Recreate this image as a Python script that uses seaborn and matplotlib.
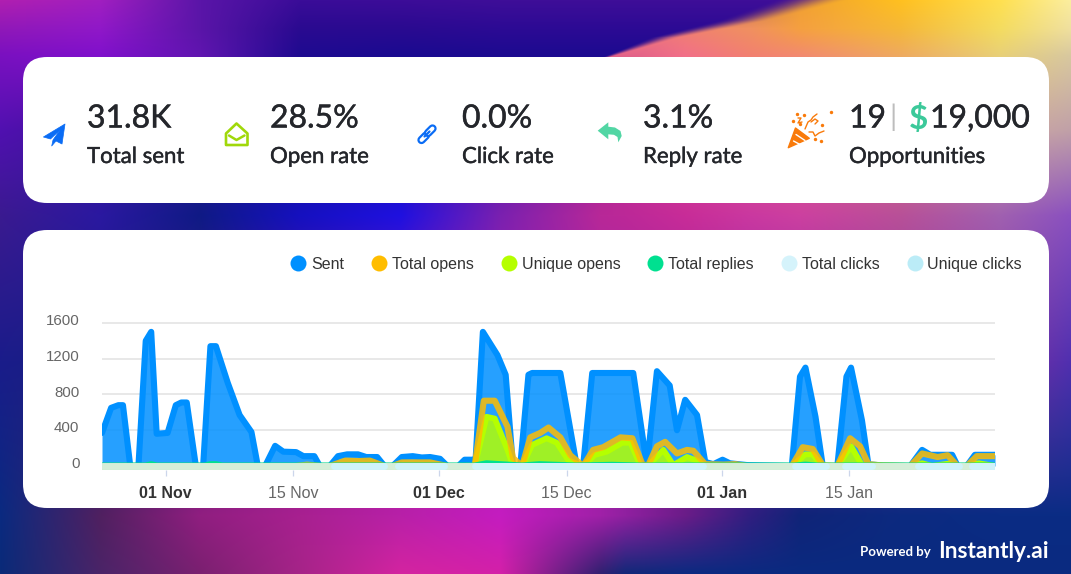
import matplotlib
matplotlib.use("Agg")
import matplotlib.pyplot as plt
import matplotlib.patheffects as pe
import seaborn as sns
import numpy as np
import pandas as pd
from matplotlib.lines import Line2D
from matplotlib.patches import FancyBboxPatch, Polygon

START = pd.Timestamp("2023-10-25")

# days since START, value pairs
sent_days = [0, 1.0, 1.8, 2.3, 3.1, 4.0, 4.8, 5.4, 6.0, 7.2, 8.1, 8.7, 9.3, 10.3, 11.1, 11.9, 12.5, 13.8, 15.1, 16.4,
             17.1, 17.9, 19.0, 19.9, 21.3, 22.1, 23.3, 23.9, 25.0, 25.9, 26.9, 28.1, 29.0, 30.2, 31.0, 31.9, 32.9,
             34.1, 35.1, 36.0, 37.1, 37.9, 39.1, 39.8, 40.7, 41.0, 41.8, 43.4, 44.3, 45.1, 45.9, 46.8, 47.2, 50.3,
             52.1, 52.8, 53.8, 54.3, 58.3, 59.8, 60.9, 62.3, 63.1, 64.0, 65.3, 66.2, 67.1, 68.1, 68.9, 70.8, 75.7,
             76.6, 77.2, 78.3, 79.1, 80.7, 81.7, 82.2, 83.4, 84.1, 85.7, 88.7, 90.0, 90.9, 93.3, 93.9, 94.9, 95.8, 98]
sent = [370, 650, 680, 680, 0, 0, 1400, 1500, 360, 370, 680, 710, 710, 0, 0, 1340, 1340, 930, 570, 380,
        0, 0, 225, 160, 155, 110, 110, 0, 0, 110, 130, 130, 100, 100, 0, 0, 100,
        110, 95, 100, 80, 0, 0, 70, 70, 70, 1500, 1240, 1020, 0, 0, 1020, 1040, 1040,
        0, 0, 1040, 1040, 1040, 0, 1060, 900, 400, 740, 570, 45, 20, 70, 30, 10, 0,
        1000, 1100, 550, 0, 0, 1000, 1100, 510, 20, 5, 0, 180, 125, 125, 0, 0, 125, 125]

opens_days = [0, 21.3, 22.5, 24.0, 25.0, 26.7, 28.1, 29.4, 31.0, 31.9, 32.9, 36.0, 37.9, 40.9, 41.9, 43.1, 44.5, 45.1,
              46.1, 47.0, 48.1, 49.0, 50.3, 51.4, 52.8, 53.9, 55.0, 56.9, 58.2, 59.3, 59.9, 60.9, 61.8, 63.1, 64.2,
              64.9, 66.2, 68.2, 69.5, 70.8, 75.7, 76.9, 78.0, 79.1, 80.7, 82.1, 83.2, 84.1, 85.7, 88.7, 90.0, 91.7,
              92.8, 93.9, 94.9, 96.0, 98]
total_opens = [0, 0, 15, 0, 0, 60, 55, 60, 0, 0, 40, 40, 0, 0, 730, 730, 440, 90,
               0, 320, 370, 430, 320, 120, 0, 180, 210, 320, 310, 20, 0, 220, 270, 140, 180,
               170, 20, 15, 20, 0, 0, 210, 190, 10, 0, 310, 220, 20, 5, 0, 140, 100,
               120, 0, 0, 110, 110]

unique_days = [0, 40.9, 42.2, 43.1, 44.5, 45.1, 46.1, 47.2, 48.8, 49.9, 51.2, 52.8, 54.1, 55.4, 57.1, 58.0, 59.1, 59.9,
               61.6, 62.7, 64.2, 65.3, 66.2, 75.7, 77.2, 78.0, 79.0, 80.7, 82.2, 83.4, 88.7, 90.0, 91.1, 92.8, 93.9,
               94.9, 96.2, 98]
unique_opens = [0, 0, 550, 530, 180, 0, 0, 235, 310, 260, 60, 0, 125, 160, 260, 260, 0, 0,
                180, 10, 100, 60, 0, 0, 130, 130, 0, 0, 220, 10, 0, 30, 0, 25, 0,
                0, 30, 0]

replies_days = [0, 4.8, 5.4, 6.0, 11.3, 11.9, 12.5, 13.2, 40.9, 42.2, 44.5, 46.1, 48.0, 52.0, 56.0, 59.0, 76.0, 77.2, 78.5, 98]
total_replies = [0, 0, 15, 0, 0, 15, 15, 0, 0, 25, 10, 0, 15, 0, 8, 0, 0, 10, 0, 0]

# stretches where the click series sit at zero on top of the baseline
click_from = [25.5, 32.5, 40.9, 76.0, 81.5, 89.5, 95.5]
click_to = [31.0, 37.5, 66.0, 79.5, 84.5, 94.0, 98.0]

legend_names = ["Sent", "Total opens", "Unique opens", "Total replies", "Total clicks", "Unique clicks"]
legend_colors = ["#0090ff", "#ffbd00", "#b5ff00", "#00e090", "#d5f3fb", "#bbecf7"]

y_ticks = [0, 400, 800, 1200, 1600]
x_ticks = ["2023-11-01", "2023-11-15", "2023-12-01", "2023-12-15", "2024-01-01", "2024-01-15"]
x_labels = ["01 Nov", "15 Nov", "01 Dec", "15 Dec", "01 Jan", "15 Jan"]

# background colour mesh, rows and columns in pixels
bg_x = [0, 100, 200, 300, 400, 500, 600, 625, 685, 750, 800, 900, 1000, 1071]
bg_y = [0, 28, 55, 130, 215, 360, 515, 574]
bg_rows = [
    ["#b01fb0", "#a01fc0", "#5a15a8", "#3a0c98", "#3c0c98", "#3e0e98", "#3e0e98", "#3e0e98", "#4a1490", "#c07840", "#f0a030", "#ffc020", "#ffe050", "#fbeea0"],
    ["#9018b8", "#9018c8", "#5a15a8", "#2a0a90", "#2a0a90", "#2c0a94", "#300c90", "#f07088", "#f08070", "#f09060", "#f5a040", "#f5b838", "#f4dc60", "#f0e0a0"],
    ["#7a10c0", "#8010cc", "#6015b0", "#1e0a90", "#1a0a90", "#1c0a90", "#300e88", "#e06088", "#f27088", "#f28070", "#f28a70", "#eeaa60", "#e8d078", "#d8c8a0"],
    ["#5010b0", "#401598", "#301590", "#201090", "#2010a0", "#5018a0", "#a02090", "#c03090", "#d84890", "#e05888", "#e06080", "#d88080", "#d0a8a0", "#c0a0a8"],
    ["#3a1a90", "#2a18a0", "#0f1a85", "#1510c0", "#1f10e0", "#7a20b0", "#b82898", "#bc2898", "#c82c98", "#ca38a0", "#cc40a0", "#b85098", "#a060b0", "#8a50c0"],
    ["#1a1c8a", "#1a2080", "#3a1c80", "#6a1c90", "#9020a0", "#a820b0", "#a020a8", "#9a20a4", "#902098", "#8820a0", "#8020a0", "#8030a0", "#8030a0", "#5030b0"],
    ["#0a2a80", "#502060", "#901e80", "#a82090", "#b820a8", "#c41cc0", "#a020a8", "#9020a0", "#6a1c88", "#301e80", "#102478", "#0c2a80", "#0a2c84", "#0a2c84"],
    ["#0a2a78", "#4a2468", "#7a2070", "#a62488", "#d424a0", "#d420a8", "#302070", "#102878", "#0a2a80", "#0a2a80", "#0a2a80", "#0a2a80", "#0a2a80", "#0a2a80"],
]
# the diagonal edge of the warm wedge at the top, y to x in pixels
wedge_y = [0, 20, 37, 57]
wedge_x = [772, 717, 649, 601]


def to_dates(days):
    return START + pd.to_timedelta(days, unit="D")


def make_background():
    rgb = np.array([[matplotlib.colors.to_rgb(c) for c in row] for row in bg_rows])
    xs = np.arange(1071)
    ys = np.arange(574)
    across = np.stack([[np.interp(xs, bg_x, rgb[r, :, k]) for k in range(3)] for r in range(len(bg_y))])
    img = np.stack([[np.interp(ys, bg_y, across[:, k, i]) for i in range(1071)] for k in range(3)], axis=-1).transpose(1, 0, 2)
    # mesh alone makes the wedge blocky, so redo the top strip right of x=500
    out = img.copy()
    for y in range(58):
        edge = np.interp(y, wedge_y, wedge_x)
        width = 8 + (57 - y) * 1.2
        t = np.clip((xs - edge) / width, 0, 1)
        mix = (t * t * (3 - 2 * t))[:, None]
        warm = img[y, np.maximum(xs, int(edge + 30))]
        cold = img[y, 500]
        out[y, 500:] = (cold * (1 - mix) + warm * mix)[500:]
    return out


sns.set_theme(style="white")
plt.rcParams["font.family"] = ["Liberation Sans", "DejaVu Sans"]

W, H = 1071, 574
fig = plt.figure(figsize=(W / 100, H / 100), dpi=100)

# page layer in pixel coordinates: background, cards, stat row, icons
page = fig.add_axes([0, 0, 1, 1])
page.set_xlim(0, W)
page.set_ylim(H, 0)
page.axis("off")
page.imshow(make_background(), extent=(0, W, H, 0), aspect="auto", zorder=0)
page.set_xlim(0, W)
page.set_ylim(H, 0)

for top, bottom in [(57, 203), (230, 508)]:
    page.add_patch(FancyBboxPatch((23 + 24, top + 24), 1026 - 48, bottom - top - 48,
                                  boxstyle="round,pad=24,rounding_size=24", fc="white", ec="none", zorder=1))

DARK = "#24262b"
HEAVY = [pe.withStroke(linewidth=0.3, foreground=DARK)]


def stat_text(x, y, s, size, color=DARK, **kw):
    t = page.text(x, y, s, fontsize=size, family="Lato", color=color, va="center", zorder=3, **kw)
    if color == DARK:
        t.set_path_effects(HEAVY)


stats = [(87, "31.8K", "Total sent"), (270, "28.5%", "Open rate"), (462, "0.0%", "Click rate"), (643, "3.1%", "Reply rate")]
for x, big, small in stats:
    stat_text(x, 118.5, big, 23)
    stat_text(x, 157, small, 16)
stat_text(849, 118.5, "19", 23)
page.text(893, 117, "|", fontsize=21, family="Lato", color="#bdbdbd", ha="center", va="center", zorder=3)
stat_text(909, 118.5, "$", 24, color="#3cc99a", weight="bold")
stat_text(930, 118.5, "19,000", 23)
stat_text(849, 157, "Opportunities", 16)

page.text(860, 551.5, "Powered by", fontsize=9.5, family="Lato", weight="bold", color="white", va="center", zorder=3)
page.text(938, 551, "Instantly.ai", fontsize=16.3, family="Lato", weight="bold", color="white", va="center", zorder=3)

# plane
page.add_patch(Polygon([(65, 124), (43.4, 137), (50.5, 139), (60, 130), (53, 140), (51.7, 146), (56, 141), (62, 144)],
                       fc="#0a6cf5", ec="#0a6cf5", lw=0.5, joinstyle="round", zorder=3))
# open envelope
page.add_patch(Polygon([(226, 133.5), (236.5, 123.5), (247.5, 133.5), (247.5, 145), (226, 145)], fc="white", ec="#a0d80a",
                       lw=1.9, joinstyle="round", zorder=3))
page.plot([229, 236.5, 244.5], [135.5, 140, 135.5], color="#a0d80a", lw=1.8, solid_capstyle="round", zorder=3)
# link
for (x0, y0, x1, y1) in [(421.5, 140, 426, 135.5), (428, 133, 432.5, 128.5)]:
    page.plot([x0, x1], [y0, y1], color="#0a6cf5", lw=6, solid_capstyle="round", zorder=3)
    page.plot([x0, x1], [y0, y1], color="white", lw=2.8, solid_capstyle="round", zorder=3)
page.plot([424.5, 429.5], [136.5, 131.5], color="#0a6cf5", lw=1.6, solid_capstyle="round", zorder=3)
# reply arrow
page.add_patch(Polygon([(597.7, 130.7), (608.3, 122.3), (608.3, 126.7), (615, 127.5), (620.5, 131), (621.7, 136), (618.3, 142.3),
                        (617.5, 137), (614, 134.8), (608.3, 134.3), (608.3, 139.3)], fc="#52d6a4", ec="none", zorder=3))
# party popper
page.add_patch(Polygon([(788.3, 147.7), (795.5, 128), (809.3, 138.3)], fc="#f97a0a", ec="#f97a0a", lw=1, joinstyle="round", zorder=3))
for xs, ys in [([793.5, 801], [141, 145]), ([796, 805], [134.5, 140.5])]:
    page.plot(xs, ys, color="white", lw=1, zorder=3)
page.scatter([797, 804, 800, 822, 821, 815, 831, 793], [114, 115, 124, 125, 141, 139, 112, 121], s=6, color="#f97a0a", lw=0, zorder=3)
page.plot([798, 801, 798, 802], [118, 118, 123, 122], color="#f97a0a", lw=1, zorder=3)
page.plot([805, 808, 811, 813, 817], [129, 122, 120, 117, 114], color="#f97a0a", lw=1, zorder=3)
page.plot([809, 813, 815, 819, 824], [132, 132, 136, 133, 131], color="#f97a0a", lw=1, zorder=3)
page.plot([811, 815, 818, 815], [122, 119, 121, 124], color="#f97a0a", lw=1, zorder=3)

# chart axes: left 102, right 995, top 318, bottom 470 (pixels)
ax = fig.add_axes([102 / W, 1 - 470 / H, 893 / W, 152 / H])
ax.patch.set_alpha(0)

sent_x = to_dates(sent_days)
ax.fill_between(sent_x, 0, sent, color="#0090ff", alpha=0.85, lw=0, zorder=2)
sns.lineplot(x=sent_x, y=sent, ax=ax, color="#0090ff", lw=4.4, estimator=None, sort=False, zorder=3)

unique_x = to_dates(unique_days)
ax.fill_between(unique_x, 0, unique_opens, color="#b5ff00", alpha=0.85, lw=0, zorder=4)
sns.lineplot(x=unique_x, y=unique_opens, ax=ax, color="#b5ff00", lw=4.2, estimator=None, sort=False, zorder=5)
sns.lineplot(x=to_dates(opens_days), y=total_opens, ax=ax, color="#ffbd00", alpha=0.85, lw=4.4,
             estimator=None, sort=False, zorder=6)
sns.lineplot(x=to_dates(replies_days), y=total_replies, ax=ax, color="#00e090", lw=5,
             estimator=None, sort=False, zorder=7)

# zero baseline, then the click series where they show cyan
sns.lineplot(x=to_dates([0, 98]), y=[0, 0], ax=ax, color="#d5eed8", lw=5, estimator=None, zorder=8)
for a, b in zip(click_from, click_to):
    sns.lineplot(x=to_dates([a, b]), y=[0, 0], ax=ax, color="#cff3fb", lw=5, estimator=None, zorder=9)

ax.set_xlim(to_dates(0), to_dates(98))
ax.set_ylim(-45, 1655)
ax.set_xlabel("")
ax.set_ylabel("")
ax.set_yticks(y_ticks)
ax.set_yticklabels([])
for v in y_ticks:
    ax.annotate(str(v), xy=(0, v), xycoords=ax.get_yaxis_transform(), xytext=(-16.2, 1.3), textcoords="offset points",
                ha="right", va="center", fontsize=10.8, color="#666666", annotation_clip=False)
ax.set_xticks(pd.to_datetime(x_ticks))
ax.set_xticklabels(x_labels, fontsize=11.5, color="#666666")
for label in ax.get_xticklabels():
    if label.get_text().startswith("01"):
        label.set_fontweight("bold")
        label.set_color("#333333")
ax.tick_params(axis="x", length=4.3, width=0.9, color="#ccd6eb", pad=7.5, bottom=True)
ax.tick_params(axis="y", length=0)
ax.grid(axis="y", color="#e6e6e6", lw=1.3, zorder=1)
ax.grid(axis="x", visible=False)
ax.set_axisbelow(True)
sns.despine(ax=ax, left=True, bottom=True)

handles = [Line2D([], [], ls="", marker="o", ms=11.5, mfc=c, mec=c, mew=0, label=n)
           for n, c in zip(legend_names, legend_colors)]
leg = fig.legend(handles=handles, loc="center right", bbox_to_anchor=(1022 / W, 1 - 264.5 / H), ncol=6, frameon=False,
                 fontsize=11.5, handlelength=1, handletextpad=0.3, columnspacing=1.7, borderpad=0, borderaxespad=0)
for t in leg.get_texts():
    t.set_color("#333333")

fig.savefig("out.png", dpi=100)
